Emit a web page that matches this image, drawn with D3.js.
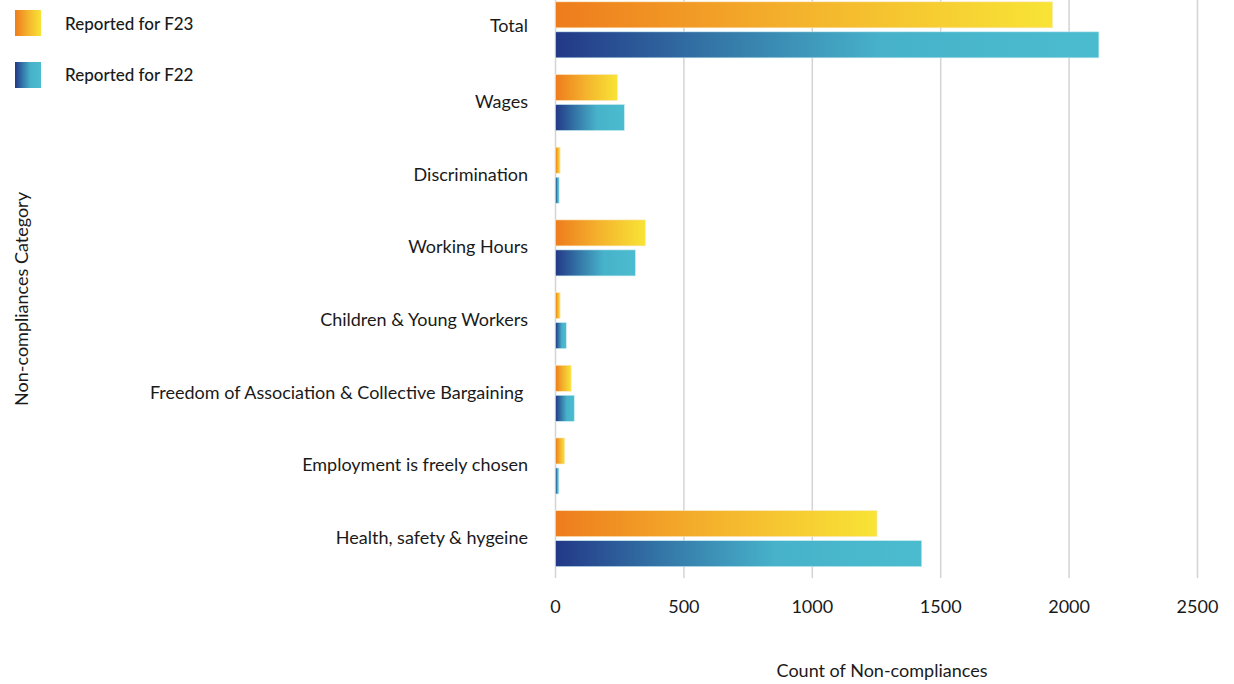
<!DOCTYPE html>
<html><head><meta charset="utf-8">
<script src="https://cdn.jsdelivr.net/npm/d3@7"></script>
<style>body{margin:0;background:#fff;}svg{display:block;}text{font-family:Lato,"Noto Sans",sans-serif;fill:#1a1a1a;white-space:pre;}</style>
</head><body>
<script>
const categories = ["Total","Wages","Discrimination","Working Hours","Children & Young Workers","Freedom of Association & Collective Bargaining ","Employment is freely chosen","Health, safety & hygeine"];
const f23 = [1936, 241, 18, 350, 18, 61, 36, 1252];
const f22 = [2116, 268, 14, 311, 42, 73, 13, 1426];
const seriesNames = ["Reported for F23","Reported for F22"];
const xTicks = [0,500,1000,1500,2000,2500];

const W=1234,H=684;
const svg=d3.select("body").append("svg").attr("width",W).attr("height",H);
const defs=svg.append("defs");
function grad(id,stops){const g=defs.append("linearGradient").attr("id",id).attr("x1","0").attr("x2","1").attr("y1","0").attr("y2","0");
 stops.forEach(s=>g.append("stop").attr("offset",s[0]).attr("stop-color",s[1]));}
grad("gO",[[0,"#ee7c1d"],[0.5,"#f4b42d"],[1,"#f8e436"]]);
grad("gB",[[0,"#233887"],[0.3,"#3478a8"],[0.6,"#47b2ca"],[1,"#4bbccf"]]);

const x=d3.scaleLinear().domain([0,2500]).range([555.5,1197.5]);
const y=d3.scaleBand().domain(categories).range([-6.5,575]).paddingInner(0).paddingOuter(0);
const barH=26, gap=4;

svg.append("g").selectAll("line").data(xTicks).join("line")
 .attr("x1",d=>x(d)).attr("x2",d=>x(d)).attr("y1",0).attr("y2",578)
 .attr("stroke","#d4d4d4").attr("stroke-width",1.5);

const data=categories.map((c,i)=>({c,a:f23[i],b:f22[i]}));
const g=svg.append("g");
g.selectAll("rect.a").data(data).join("rect").attr("class","a")
 .attr("x",x(0)).attr("width",d=>x(d.a)-x(0))
 .attr("y",d=>y(d.c)+y.bandwidth()/2-gap/2-barH).attr("height",barH)
 .attr("fill","url(#gO)").attr("stroke","#fbe9c0").attr("stroke-width",0.6);
g.selectAll("rect.b").data(data).join("rect").attr("class","b")
 .attr("x",x(0)).attr("width",d=>x(d.b)-x(0))
 .attr("y",d=>y(d.c)+y.bandwidth()/2+gap/2).attr("height",barH)
 .attr("fill","url(#gB)").attr("stroke","#c6e9f0").attr("stroke-width",0.6);

svg.append("g").selectAll("text").data(categories).join("text")
 .attr("x",528).attr("y",(d,i)=>y(d)+y.bandwidth()/2-(i===0?4:1)).attr("dy","0.35em")
 .attr("text-anchor","end").attr("font-size",18).text(d=>d);

svg.append("g").selectAll("text").data(xTicks).join("text")
 .attr("x",d=>x(d)).attr("y",607).attr("dy","0.35em").attr("text-anchor","middle")
 .attr("font-size",18).text(d=>d);

svg.append("text").attr("x",882).attr("y",671).attr("dy","0.35em").attr("text-anchor","middle")
 .attr("font-size",18).text("Count of Non-compliances");
svg.append("text").attr("transform","translate(22,299) rotate(-90)").attr("dy","0.35em")
 .attr("text-anchor","middle").attr("font-size",18).text("Non-compliances Category");

const lg=svg.append("g");
const lfill=["url(#gO)","url(#gB)"];
seriesNames.forEach((s,i)=>{
 lg.append("rect").attr("x",15).attr("y",10+i*52).attr("width",26).attr("height",26).attr("fill",lfill[i]);
 lg.append("text").attr("x",65).attr("y",24+i*51).attr("dy","0.35em").attr("font-size",17).attr("font-weight",500).text(s);
});
</script>
</body></html>
